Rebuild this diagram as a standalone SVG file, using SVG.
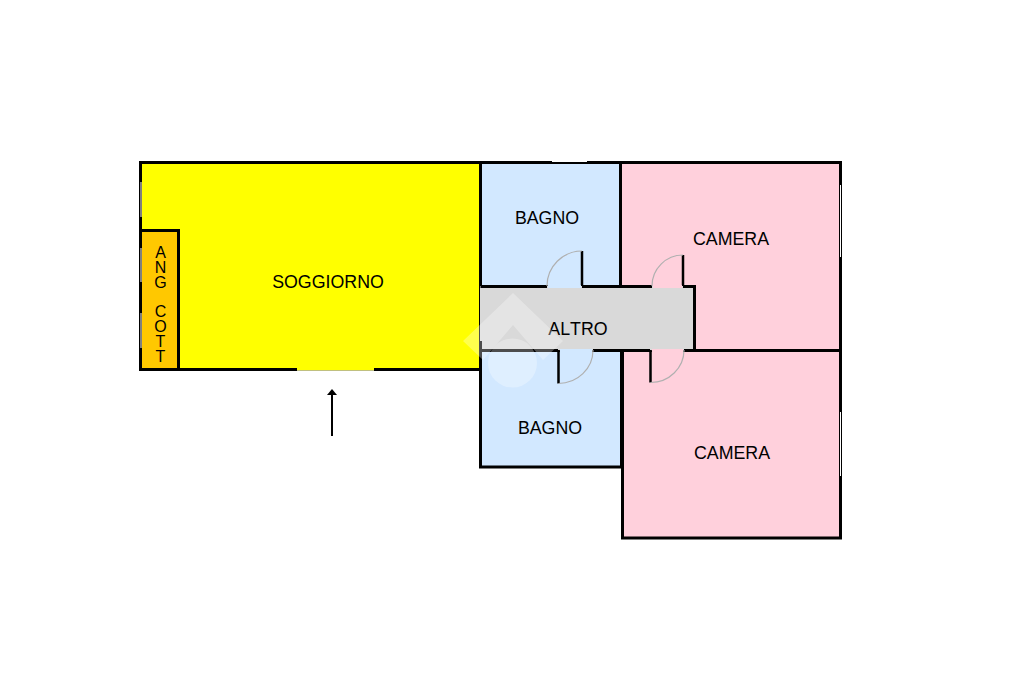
<svg xmlns="http://www.w3.org/2000/svg" width="1024" height="682" viewBox="0 0 1024 682">
<style>
.w{fill:none;stroke:#000;stroke-width:3}
.l{font-family:"Liberation Sans",Arial,sans-serif;font-size:17.8px;fill:#000;text-anchor:middle;font-kerning:none}
.v{font-family:"Liberation Sans",Arial,sans-serif;font-size:16px;fill:#000;writing-mode:vertical-rl;text-orientation:upright;letter-spacing:-2.200px;white-space:pre}
.win{stroke:#fff;stroke-width:1;fill:none}
.door{fill:none;stroke:#b0b0b0;stroke-width:1.200}
.jamb{stroke:#000;stroke-width:2.500;fill:none}
</style>
<rect width="1024" height="682" fill="#fff"/>
<g id="soggiorno">
<rect x="140.500" y="162.500" width="340" height="207" class="w" style="fill:#ffff00"/>
<text class="l" x="328" y="288">SOGGIORNO</text>
</g>
<g id="ang-cott">
<rect x="140.500" y="230.500" width="38" height="139" class="w" style="fill:#ffc800"/>
<text class="v" x="160.500" y="244">ANG COTT</text>
</g>
<g id="bagno-1">
<rect x="480.500" y="162.500" width="140" height="124" class="w" style="fill:#d2e8ff"/>
<text class="l" x="547" y="224">BAGNO</text>
</g>
<g id="camera-1">
<rect x="620.500" y="162.500" width="220" height="188" class="w" style="fill:#ffd0dc"/>
<text class="l" x="731" y="245">CAMERA</text>
</g>
<g id="bagno-2">
<rect x="480.500" y="350.500" width="141" height="116.500" class="w" style="fill:#d2e8ff"/>
<text class="l" x="550" y="434">BAGNO</text>
</g>
<g id="camera-2">
<rect x="622.500" y="350.500" width="218" height="187.500" class="w" style="fill:#ffd0dc"/>
<text class="l" x="732" y="459">CAMERA</text>
</g>
<g id="altro">
<rect x="480" y="286" width="214.500" height="64.500" fill="#d9d9d9"/>
<path class="w" d="M480.500 286.500H547M582 286.500H652M683 286.500H694.500V350.500H684M650 350.500H593M558 350.500H480.500V341"/>
<text class="l" x="578" y="335">ALTRO</text>
</g>
<g id="doors">
<path class="jamb" d="M582 251V286M683 255V286M558.500 350V383.500M650.500 350V382.500"/>
<path class="door" d="M582 251A35 35 0 0 0 547 286M683 255A31 31 0 0 0 652 286M558.500 383.500A34.500 33.500 0 0 0 593 350M650.500 382.500A33.500 32.500 0 0 0 684 350"/>
<rect x="548" y="285" width="33" height="3" fill="#d2e8ff"/>
<rect x="653" y="285" width="29" height="3" fill="#ffd0dc"/>
<rect x="560" y="349" width="32" height="3" fill="#d2e8ff"/>
<rect x="652" y="349" width="31" height="3" fill="#ffd0dc"/>
</g>
<g id="windows">
<path class="win" d="M552 161.500H587M840.500 185V257M840.500 412V476M141 182V217M141 248V282M141 313V348"/>
<rect x="297" y="368" width="77" height="2.500" fill="#ffff00"/>
<rect x="297" y="370.500" width="77" height="1" fill="#fff"/>
</g>
<g id="arrow">
<path d="M332 436V393" stroke="#000" stroke-width="2" fill="none"/>
<path d="M332 389L327 395H337Z" fill="#000"/>
</g>
<g id="watermark" fill="#fff" fill-opacity="0.3">
<path d="M513 293L563 341L543 360L513 325L483 360L463 341Z"/>
<circle cx="512.500" cy="363" r="24.500"/>
</g>
</svg>
